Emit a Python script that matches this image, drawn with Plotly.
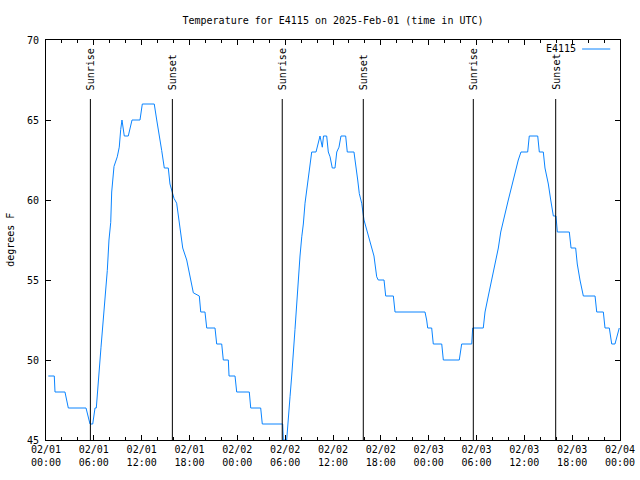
import pandas as pd
import plotly.graph_objects as go

# ---- data (hours since 2025-02-01 00:00 UTC, temperature in degrees F) ----
hours = [0.29, 1.04, 1.13, 2.38, 2.8, 5.02, 5.52, 5.86, 6.15, 6.31, 6.9, 7.19, 7.44, 7.69, 7.9,
         8.12, 8.24, 8.44, 8.53, 8.94, 9.19, 9.37, 9.53, 9.82, 10.32, 10.79, 11.79, 12.08, 13.58,
         13.89, 14.17, 14.51, 14.84, 15.34, 15.55, 16.06, 16.39, 16.6, 16.9, 17.15, 17.65, 18.06,
         18.48, 19.23, 19.41, 19.94, 20.16, 21.2, 21.41, 22.04, 22.24, 22.87, 22.96, 23.71, 23.92,
         25.5, 25.68, 26.93, 27.13, 29.69, 29.77, 30.19, 30.39, 30.61, 30.82, 31.02, 31.23, 31.45,
         31.65, 31.86, 32.08, 32.28, 32.49, 32.7, 32.9, 33.12, 33.33, 33.87, 34.16, 34.37, 34.66,
         34.81, 35.21, 35.41, 35.63, 35.91, 36.25, 36.47, 36.75, 37.0, 37.59, 37.79, 38.63, 38.85,
         39.1, 39.3, 39.6, 39.89, 40.23, 40.52, 40.86, 41.14, 41.27, 41.48, 41.68, 42.4, 42.61,
         43.57, 43.78, 47.54, 47.75, 47.88, 48.38, 48.58, 49.64, 49.84, 51.84, 52.14, 53.4, 53.52,
         54.85, 55.07, 55.48, 55.91, 56.32, 56.74, 57.04, 57.49, 57.99, 58.49, 58.92, 59.24, 59.58,
         60.42, 60.62, 61.68, 61.88, 62.38, 62.59, 63.01, 63.31, 63.64, 63.97, 64.14, 65.64, 65.86,
         66.44, 66.64, 66.98, 67.4, 68.87, 69.08, 69.91, 70.12, 70.66, 70.96, 71.37, 71.91]
temps = [49, 49, 48, 48, 47, 47, 46, 46, 47, 47, 50.8, 52.5, 54.4, 55.6, 57.5,
         58.6, 60.5, 61.6, 62.1, 62.7, 63.3, 64.4, 65, 64, 64, 65, 65, 66, 66,
         65, 64, 63.1, 62, 62, 61, 60.1, 59.8, 59, 57.9, 57, 56.25, 55.2,
         54.2, 54, 53, 53, 52, 52, 51, 51, 50, 50, 49, 49, 48,
         48, 47, 47, 46, 46, 45, 45, 46.5, 47.7, 49, 50.2, 51.9, 53.5,
         55.2, 56.5, 57.7, 58.5, 59.8, 60.6, 61.5, 62.1, 63, 63, 63.5, 64, 63.3,
         64, 64, 63, 62.7, 62, 62, 63, 63.3, 64, 64, 63, 63, 62,
         61.25, 60.4, 59.8, 58.75, 58.1, 57.5, 57, 56.5, 56, 55.2, 55, 55, 54,
         54, 53, 53, 52.5, 52, 52, 51, 51, 50, 50, 51, 51, 52,
         52, 53, 54, 55, 56, 57, 58, 59, 60, 61, 61.9, 62.5, 63,
         63, 64, 64, 63, 63, 62, 61, 60, 59, 59, 58, 58, 57,
         57, 56, 55, 54, 54, 53, 53, 52, 52, 51, 51, 52]

sun_events = ["Sunrise", "Sunset", "Sunrise", "Sunset", "Sunrise", "Sunset"]
sun_times = ["2025-02-01 05:34", "2025-02-01 15:51", "2025-02-02 05:38",
             "2025-02-02 15:48", "2025-02-03 05:36", "2025-02-03 15:56"]

tick_times = pd.date_range("2025-02-01 00:00", "2025-02-04 00:00", freq="6h")
tick_labels = [t.strftime("%m/%d") + "<br>" + t.strftime("%H:%M") for t in tick_times]
y_ticks = [45, 50, 55, 60, 65, 70]

series_name = "E4115"
title = "Temperature for E4115 on 2025-Feb-01 (time in UTC)"
y_title = "degrees F"

# ---- figure ----
base = pd.Timestamp("2025-02-01 00:00")
times = base + pd.to_timedelta(hours, unit="h")

FONT = "DejaVu Sans Mono"
LINE_COLOR = "#0a84ff"

fig = go.Figure()
fig.add_trace(go.Scatter(x=times, y=temps, mode="lines", name=series_name,
                         line=dict(color=LINE_COLOR, width=1), showlegend=False))

for ev, t in zip(sun_events, sun_times):
    fig.add_shape(type="line", x0=t, x1=t, xref="x", y0=0, y1=0.8525, yref="y domain",
                  line=dict(color="black", width=1))
    fig.add_annotation(x=t, xref="x", y=0.87, yref="y domain", text=ev, textangle=-90,
                       showarrow=False, xanchor="center", yanchor="bottom",
                       font=dict(family=FONT, size=10, color="black"))

# legend (gnuplot style: text then line sample)
fig.add_annotation(x=0.927, y=0.9775, xref="paper", yref="paper", text=series_name,
                   showarrow=False, xanchor="right", yanchor="middle",
                   font=dict(family=FONT, size=10, color="black"))
fig.add_shape(type="line", x0=0.934, x1=0.983, y0=0.9775, y1=0.9775, xref="paper", yref="paper",
              line=dict(color=LINE_COLOR, width=1))

fig.add_annotation(x=-0.063, y=0.5, xref="paper", yref="paper", text=y_title, textangle=-90,
                   showarrow=False, xanchor="center", yanchor="middle",
                   font=dict(family=FONT, size=10, color="black"))

fig.update_layout(
    width=640, height=480,
    margin=dict(l=46, r=20, t=40, b=40, autoexpand=False),
    paper_bgcolor="white", plot_bgcolor="white",
    font=dict(family=FONT, size=10, color="black"),
    title=dict(text=title, x=0.5, xref="paper", y=1 - 20 / 480, yanchor="middle",
               font=dict(family=FONT, size=10, color="black"), automargin=False),
    showlegend=False,
)
fig.update_xaxes(
    range=[tick_times[0], tick_times[-1]], tickvals=tick_times, ticktext=tick_labels,
    ticks="inside", ticklen=5, tickcolor="black", showgrid=False, zeroline=False,
    showline=True, linecolor="black", linewidth=1, mirror="ticks", automargin=False,
    minor=dict(dtick=2 * 3600 * 1000, ticks="inside", ticklen=3, tickcolor="black", showgrid=False),
    tickfont=dict(family=FONT, size=10),
)
fig.update_yaxes(
    range=[45, 70], tickvals=y_ticks, ticks="inside", ticklen=5, tickcolor="black",
    showgrid=False, zeroline=False, showline=True, linecolor="black", linewidth=1,
    mirror="ticks", tickfont=dict(family=FONT, size=10), ticklabelstandoff=4, automargin=False,
)

fig.write_html("out.html", config={"displayModeBar": False},
               post_script="document.body.style.margin='0';document.body.style.overflow='hidden';")
